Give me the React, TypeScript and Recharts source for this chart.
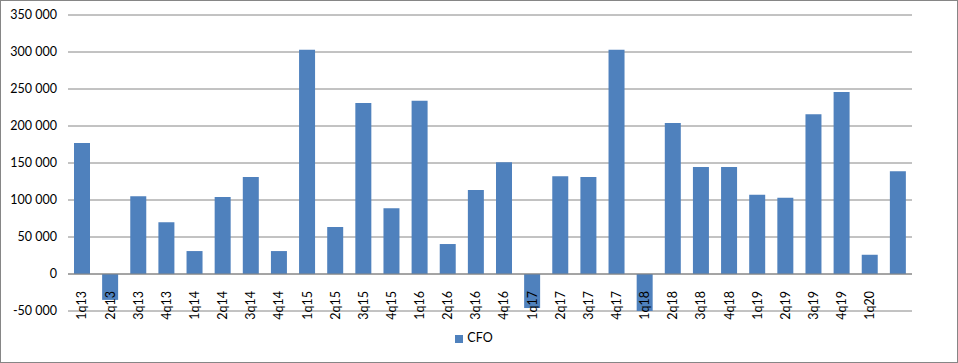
import { BarChart, Bar, XAxis, YAxis, CartesianGrid, ReferenceLine, Legend } from 'recharts';

// quarters (last one has no printed label in the source)
const quarters = [
  '1q13', '2q13', '3q13', '4q13', '1q14', '2q14', '3q14', '4q14',
  '1q15', '2q15', '3q15', '4q15', '1q16', '2q16', '3q16', '4q16',
  '1q17', '2q17', '3q17', '4q17', '1q18', '2q18', '3q18', '4q18',
  '1q19', '2q19', '3q19', '4q19', '1q20', '2q20',
];
const tickLabels = [
  '1q13', '2q13', '3q13', '4q13', '1q14', '2q14', '3q14', '4q14',
  '1q15', '2q15', '3q15', '4q15', '1q16', '2q16', '3q16', '4q16',
  '1q17', '2q17', '3q17', '4q17', '1q18', '2q18', '3q18', '4q18',
  '1q19', '2q19', '3q19', '4q19', '1q20', '',
];
const cfo = [
  177000, -35000, 105000, 70000, 31000, 104000, 131000, 31000,
  303000, 63500, 231000, 89000, 234000, 40500, 113500, 151000,
  -46000, 132000, 131000, 303000, -50000, 204000, 144500, 144500,
  107000, 103000, 216000, 246000, 26000, 139000,
];
const yTicks = [-50000, 0, 50000, 100000, 150000, 200000, 250000, 300000, 350000];

const data = quarters.map((q, i) => ({ q, CFO: cfo[i] }));

const fmt = (v: number) => {
  const s = Math.abs(v).toString().replace(/\B(?=(\d{3})+(?!\d))/g, ' ');
  return v < 0 ? '-' + s : s;
};

// x labels sit just under the zero line, rotated
function QuarterTick(props: any) {
  const { x, y, payload } = props;
  const i = quarters.indexOf(payload.value);
  const top = y - 37 + 9;
  return (
    <text
      x={x}
      y={top}
      dy="0.35em"
      textAnchor="end"
      fontSize={12.5}
      fill="#000"
      transform={`rotate(-90, ${x}, ${top})`}
    >
      {tickLabels[i]}
    </text>
  );
}

export default function App() {
  return (
    <div style={{ position: 'fixed', left: 0, top: 0, width: 958, height: 363, fontFamily: 'Lato, "Open Sans", sans-serif', background: '#fff' }}>
      <BarChart
        width={958}
        height={363}
        data={data}
        margin={{ top: 15, right: 46, left: 0, bottom: 37 }}
      >
        <CartesianGrid vertical={false} stroke="#868686" />
        <XAxis
          dataKey="q"
          height={1}
          axisLine={false}
          tickLine={false}
          interval={0}
          tick={<QuarterTick />}
        />
        <YAxis
          width={68}
          domain={[-50000, 350000]}
          ticks={yTicks}
          axisLine={false}
          tickLine={false}
          tickSize={0}
          tickMargin={11}
          tickFormatter={fmt}
          tick={{ fontSize: 12.5, fill: '#000' }}
          interval={0}
        />
        <ReferenceLine y={0} stroke="#868686" />
        <Bar dataKey="CFO" fill="#4F81BD" barSize={16} isAnimationActive={false} />
        <Legend
          verticalAlign="bottom"
          iconType="square"
          iconSize={8}
          formatter={(v: string) => <span style={{ color: '#000' }}>{v}</span>}
          wrapperStyle={{ fontSize: 12.5, lineHeight: '14px', top: 331, bottom: 'auto', left: 0, width: 958 }}
        />
      </BarChart>
      <div style={{ position: 'absolute', inset: 0, border: '1px solid #868686', pointerEvents: 'none' }} />
    </div>
  );
}
